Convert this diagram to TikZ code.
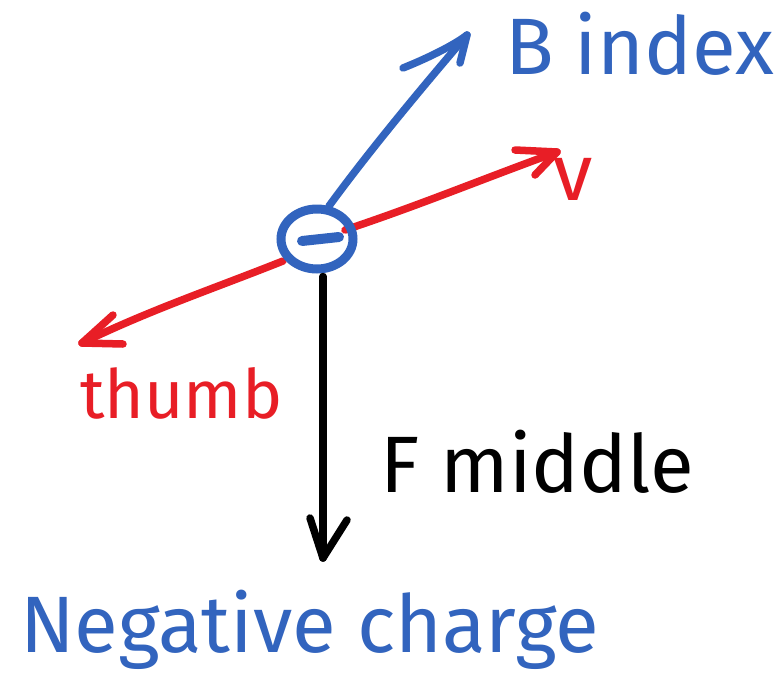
\documentclass[tikz,border=0pt]{standalone}
\usepackage{fontspec}
\usetikzlibrary{shapes.geometric}
\setmainfont{Fira Sans}
\definecolor{penblue}{RGB}{50,100,190}
\definecolor{penred}{RGB}{232,30,38}
\definecolor{penblack}{RGB}{0,0,0}
\begin{document}
\begin{tikzpicture}[x=1pt,y=-1pt,
  pen/.style={line width=7.5pt,line cap=round,line join=round},
  lbl/.style={anchor=base west,inner sep=0pt,outer sep=0pt},
  big/.style={font=\fontsize{80}{90}\selectfont}]
\useasboundingbox[fill=white] (0,0) rectangle (784,691);
% free ends of connectors
\coordinate (Btip) at (467,35);
\coordinate (vtip) at (557,152);
\coordinate (thtip) at (82,343);
\coordinate (Ftip) at (323,558);
\coordinate (redin) at (345,230);
% red line (behind the charge)
\draw[pen,penred] (redin) .. controls (420,205) and (480,180) .. (vtip);
\draw[pen,penred] (vtip) ++(-42,-2) -- (vtip) -- ++(-22,23);
\draw[pen,penred] (283,261) .. controls (210,290) and (150,310) .. (thtip);
\draw[pen,penred] (thtip) ++(31,-28) -- (thtip) -- ++(41,1);
% charge
\node[draw=penblue,line width=9pt,ellipse,minimum width=72pt,minimum height=60pt,inner sep=0pt] (q) at (317,239) {};
\draw[pen,penblue,line width=10pt] (302,241) -- (339,237);
% B arrow
\draw[pen,penblue] (q.70) .. controls (370,150) and (420,90) .. (Btip);
\draw[pen,penblue] (Btip) ++(-64,33) .. controls +(30,-12) and +(-10,8) .. (Btip) -- ++(-7,28);
% F arrow
\draw[pen,penblack] (q.south) ++(6,3) -- (Ftip);
\draw[pen,penblack] (Ftip) ++(-13,-40) -- (Ftip) -- ++(24,-38);
% labels
\node[lbl,big,text=penblue] (Blab) at (505,74) {B index};
\node[lbl,big,text=penred] (vlab) at (553,200) {v};
\node[lbl,text=penred,font=\fontsize{68}{80}\selectfont] (thlab) at (80,418) {thumb};
\node[lbl,big,text=penblack] (Flab) at (380,492) {F middle};
\node[lbl,big,text=penblue] (Nlab) at (20,652) {Negative charge};
\end{tikzpicture}
\end{document}
